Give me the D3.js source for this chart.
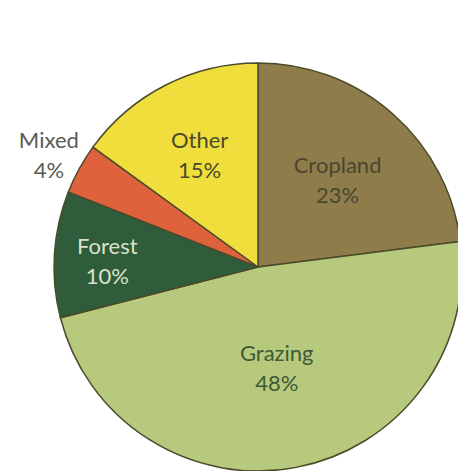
<!DOCTYPE html>
<html>
<head>
<style>
  body { margin: 0px; background: white; }
  svg { display: block; }
  text { font-family: Lato, "Open Sans", sans-serif; }
</style>
<script src="https://d3js.org/d3.v7.min.js"></script>
</head>
<body>
<svg></svg>
<script>
const categories = ["Cropland", "Grazing", "Forest", "Mixed", "Other"];
const shares = [23, 48, 10, 4, 15];

const width = 458, height = 471;
const cx = 258, cy = 267, radius = 204;

const color = d3.scaleOrdinal()
    .domain(categories)
    .range(["#8e7c4b", "#b6c97d", "#2f5c3a", "#de623c", "#f0de3c"]);

const labelColor = d3.scaleOrdinal()
    .domain(categories)
    .range(["#4b4630", "#3f5a36", "#d9e2cc", "#5a5a55", "#4a4a2c"]);

// how far out each label sits, as a share of the radius
const labelRadius = d3.scaleOrdinal()
    .domain(categories)
    .range([0.59, 0.49, 0.74, 1.17, 0.63]);

const svg = d3.select("svg")
    .attr("width", width)
    .attr("height", height);

const g = svg.append("g").attr("transform", `translate(${cx},${cy})`);

const pie = d3.pie().sort(null).value(function(d, i) {return shares[i]});
const arcs = pie(categories);

const arc = d3.arc().innerRadius(0).outerRadius(radius);

g.selectAll("path")
  .data(arcs)
  .join("path")
    .attr("d", arc)
    .attr("fill", function(d) {return color(d.data)})
    .attr("stroke", "#4a4a2a")
    .attr("stroke-width", 1.5)
    .attr("stroke-linejoin", "round");

const labels = g.selectAll("text.label")
  .data(arcs)
  .join("text")
    .attr("class", "label")
    .attr("text-anchor", "middle")
    .attr("font-size", 22)
    .attr("fill", function(d) {return labelColor(d.data)})
    .attr("transform", function(d) {
      const r = radius * labelRadius(d.data);
      const c = d3.arc().innerRadius(r).outerRadius(r).centroid(d);
      return `translate(${c[0]},${c[1]})`;
    });

labels.append("tspan")
    .attr("x", 0)
    .attr("y", -4)
    .text(function(d) {return d.data});

labels.append("tspan")
    .attr("x", 0)
    .attr("y", 26)
    .text(function(d, i) {return shares[i] + "%"});
</script>
</body>
</html>
